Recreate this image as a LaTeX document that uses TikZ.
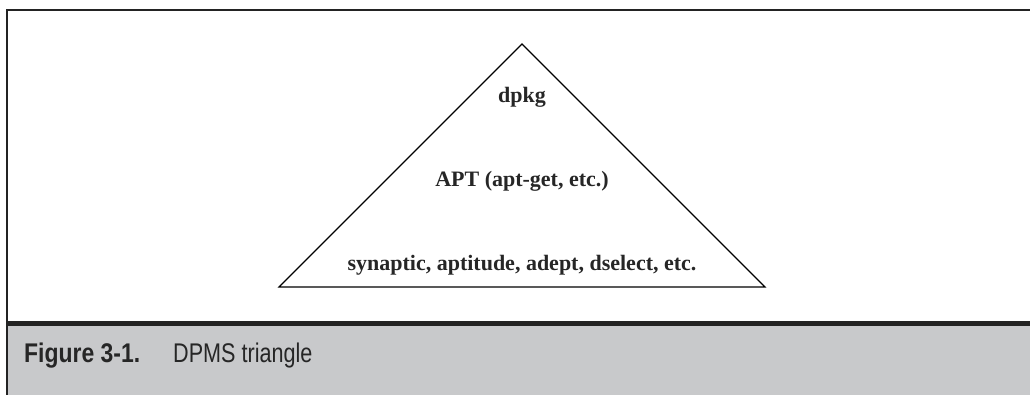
\documentclass[tikz,border=0pt]{standalone}
\usepackage{fontspec}
\newfontfamily\capfont{Liberation Sans}
\newfontfamily\serifbold{Liberation Serif}
\definecolor{framec}{HTML}{232323}
\definecolor{capgray}{HTML}{C8C9CB}
\tikzset{
  frameline/.style={draw=framec, line width=2.5pt},
  tri/.style={draw=black, line width=1.2pt, line join=miter},
  tritext/.style={anchor=base, inner sep=0pt, font=\fontsize{22}{26}\serifbold\bfseries, text=black!85},
  captext/.style={anchor=base west, inner sep=0pt, text=black!85}
}
\begin{document}
\begin{tikzpicture}[x=1pt, y=-1pt]
\useasboundingbox (0,0) rectangle (1030,395);
% caption band
\fill[capgray] (7,323) rectangle (1032,397);
% frame
\draw[frameline] (7,397) -- (7,10) -- (1032,10);
\draw[draw=framec, line width=5pt] (7,323) -- (1032,323);
% triangle
\coordinate (apex) at (522,44);
\coordinate (bl) at (279,287);
\coordinate (br) at (765,287);
\draw[tri] (bl) -- (apex) -- (br) -- cycle;
% labels
\node[tritext] (dpkg) at (522,103) {dpkg};
\node[tritext] (apt) at (522,187) {APT (apt-get, etc.)};
\node[tritext] (front) at (522,271) {synaptic, aptitude, adept, dselect, etc.};
% caption
\node[captext, font=\fontsize{27}{30}\capfont\bfseries] (fig) at (24,362) {\scalebox{0.85}[1]{Figure 3-1.}};
\node[captext, font=\fontsize{27}{30}\capfont] (title) at (173,362) {\scalebox{0.8}[1]{DPMS triangle}};
\end{tikzpicture}
\end{document}
